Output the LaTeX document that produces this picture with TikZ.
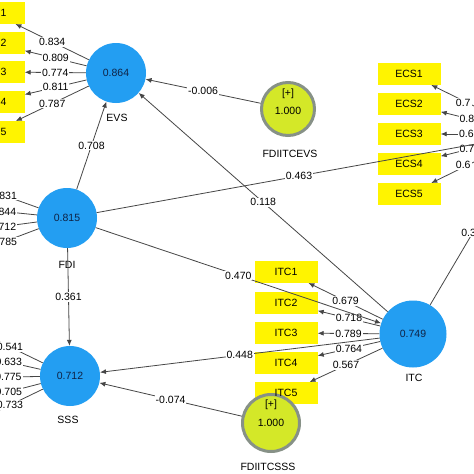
\documentclass[tikz,border=0pt]{standalone}
\usepackage{fontspec}
\setmainfont{Liberation Sans}
\usetikzlibrary{arrows.meta}
\definecolor{plsblue}{RGB}{35,158,242}
\definecolor{valtxt}{RGB}{15,35,70}
\definecolor{modfill}{RGB}{212,232,40}
\definecolor{modgray}{RGB}{135,145,135}
\definecolor{indyel}{RGB}{255,244,0}
\definecolor{linegray}{RGB}{70,70,70}
\begin{document}
\begin{tikzpicture}[x=1pt,y=-1pt, font=\fontsize{10.5}{12}\selectfont,
  lv/.style={circle, fill=plsblue, minimum size=60pt, inner sep=0pt, text=valtxt},
  ind/.style={rectangle, fill=indyel, minimum width=63pt, minimum height=21.5pt, inner sep=0pt},
  mod/.style={circle, fill=modfill, draw=modgray, line width=3pt, inner sep=0pt},
  lab/.style={fill=white, inner sep=1pt},
  conn/.style={draw=linegray, line width=0.8pt},
  arr/.style={conn, -{Latex[length=6pt,width=5pt]}}]
\useasboundingbox (0,0) rectangle (474,474);
\clip (0,0) rectangle (474,474);
\fill[white] (0,0) rectangle (474,474);

% indicator boxes
\node[ind] (evs1) at (-7,13) {EVS1};
\node[ind] (evs2) at (-7,43) {EVS2};
\node[ind] (evs3) at (-7,72) {EVS3};
\node[ind] (evs4) at (-7,102) {EVS4};
\node[ind] (evs5) at (-7,132) {EVS5};
\node[ind] (ecs1) at (409,74) {ECS1};
\node[ind] (ecs2) at (409,104) {ECS2};
\node[ind] (ecs3) at (409,134) {ECS3};
\node[ind] (ecs4) at (409,164) {ECS4};
\node[ind] (ecs5) at (409,194) {ECS5};
\node[ind] (itc1) at (286,272) {ITC1};
\node[ind] (itc2) at (286,303) {ITC2};
\node[ind] (itc3) at (286,333) {ITC3};
\node[ind] (itc4) at (286,363) {ITC4};
\node[ind] (itc5) at (286,393) {};

% off-picture indicator ends
\coordinate (fdi1) at (-31,183);
\coordinate (fdi2) at (-31,208);
\coordinate (fdi3) at (-31,231);
\coordinate (fdi4) at (-31,255);
\coordinate (sss1) at (-23,331);
\coordinate (sss2) at (-23,355);
\coordinate (sss3) at (-23,377.5);
\coordinate (sss4) at (-23,400);
\coordinate (sss5) at (-23,421);

% latent variables
\node[lv] (evs) at (116,73) {0.864};
\node[lv] (fdi) at (67,218) {0.815};
\node[lv] (sss) at (70,376) {0.712};
\node[lv, minimum size=67pt] (itc) at (413,334) {0.749};
\node[circle, minimum size=60pt, inner sep=0pt] (ecs) at (531,134) {};
\node[mod, minimum size=53pt] (m1) at (288,109) {};
\node[mod, minimum size=57pt] (m2) at (271,423) {};
\node at ([yshift=15pt]m1.center) {[+]};
\node at ([yshift=-2pt]m1.center) {1.000};
\node at ([yshift=18pt]m2.center) {[+]};
\node at ([yshift=0pt]m2.center) {1.000};
\node at (itc5) {ITC5};

% names
\node at (117,118) {EVS};
\node at (67,265) {FDI};
\node at (68,420) {SSS};
\node at (414,378) {ITC};
\node at (290,154) {FDIITCEVS};
\node at (268,467) {FDIITCSSS};

% outer loadings
\draw[arr] (evs) -- node[lab]{0.834} (evs1);
\draw[arr] (evs) -- node[lab]{0.809} (evs2);
\draw[arr] (evs) -- node[lab]{0.774} (evs3);
\draw[arr] (evs) -- node[lab]{0.811} (evs4);
\draw[arr] (evs) -- node[lab]{0.787} (evs5);
\draw[arr] (fdi) -- node[lab]{0.831} (fdi1);
\draw[arr] (fdi) -- node[lab]{0.844} (fdi2);
\draw[arr] (fdi) -- node[lab]{0.712} (fdi3);
\draw[arr] (fdi) -- node[lab]{0.785} (fdi4);
\draw[arr] (sss) -- node[lab]{0.541} (sss1);
\draw[arr] (sss) -- node[lab]{0.633} (sss2);
\draw[arr] (sss) -- node[lab]{0.775} (sss3);
\draw[arr] (sss) -- node[lab]{0.705} (sss4);
\draw[arr] (sss) -- node[lab]{0.733} (sss5);
\draw[arr] (itc) -- node[lab]{0.679} (itc1);
\draw[arr] (itc) -- node[lab]{0.718} (itc2);
\draw[arr] (itc) -- node[lab]{0.789} (itc3);
\draw[arr] (itc) -- node[lab]{0.764} (itc4);
\draw[arr] (itc) -- node[lab]{0.567} (itc5);
\draw[arr] (ecs) -- node[lab, anchor=west, xshift=-13pt]{0.7} (ecs1);
\draw[arr] (ecs) -- node[lab, anchor=west, xshift=-13pt]{0.8} (ecs2);
\draw[arr] (ecs) -- node[lab, anchor=west, xshift=-13pt]{0.6} (ecs3);
\draw[arr] (ecs) -- node[lab, anchor=west, xshift=-13pt]{0.7} (ecs4);
\draw[arr] (ecs) -- node[lab, anchor=west, xshift=-13pt]{0.6} (ecs5);

% structural paths
\draw[arr] (fdi) -- node[lab]{0.708} (evs);
\draw[arr] (m1) -- node[lab]{-0.006} (evs);
\draw[arr] (itc) -- node[lab]{0.118} (evs);
\draw[arr] (fdi) -- node[lab]{0.463} (ecs);
\draw[arr] (fdi) -- node[lab]{0.470} (itc);
\draw[arr] (fdi) -- node[lab]{0.361} (sss);
\draw[arr] (itc) -- node[lab]{0.448} (sss);
\draw[arr] (m2) -- node[lab]{-0.074} (sss);
\draw[arr] (itc) -- node[lab, anchor=west, xshift=-13pt]{0.3} (ecs);
\end{tikzpicture}
\end{document}
